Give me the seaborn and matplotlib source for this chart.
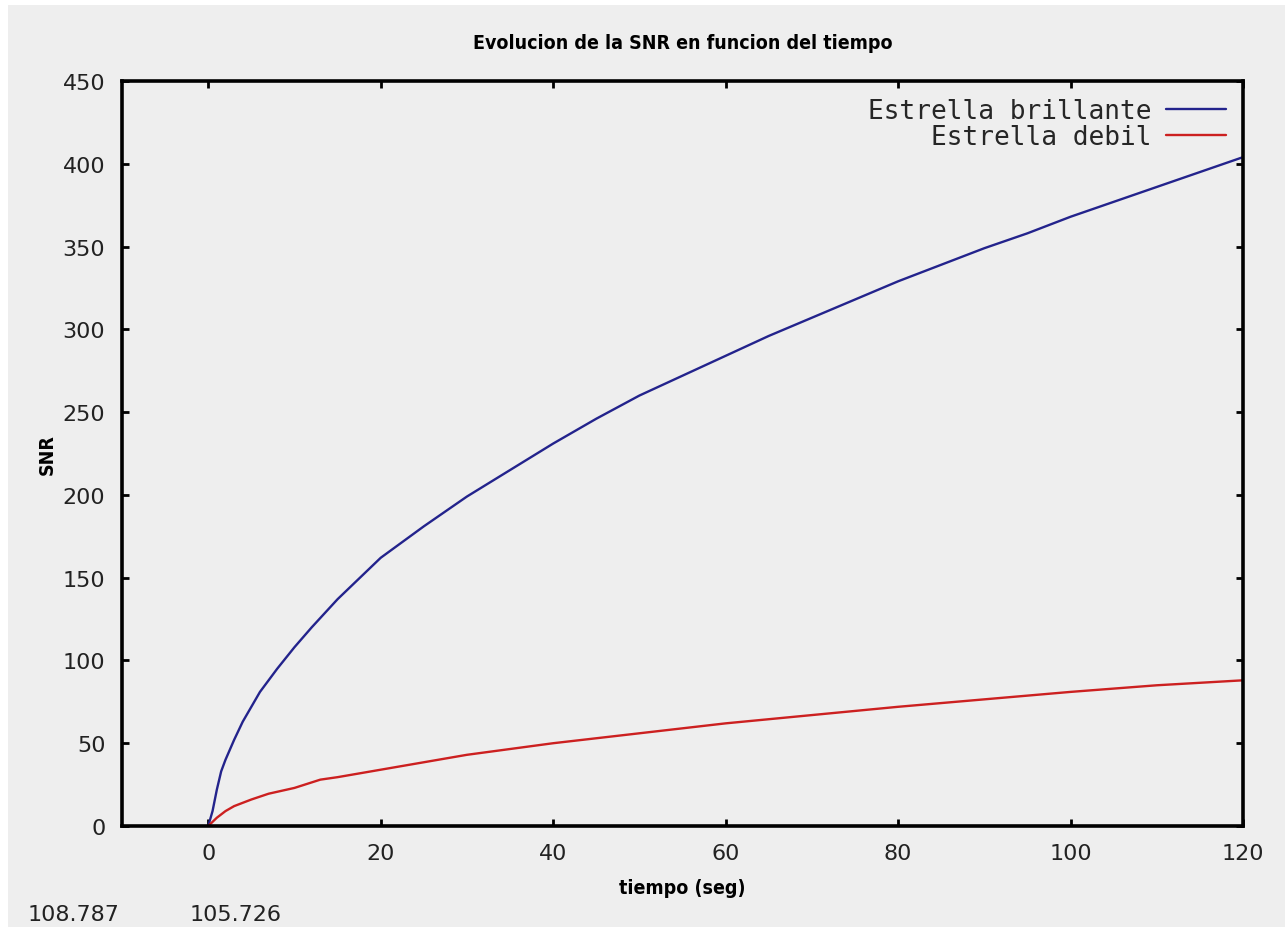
import pandas as pd
import seaborn as sns
import matplotlib.pyplot as plt
from matplotlib.patches import Rectangle

# valores
t_brillante = [0, 0.5, 1, 1.5, 2, 3, 4, 5, 6, 8, 10, 12, 15, 20, 25, 30, 35, 40, 45,
               50, 55, 60, 65, 70, 75, 80, 85, 90, 95, 100, 105, 110, 115, 120]
snr_brillante = [0, 9, 22, 33, 40, 52, 63, 72, 81, 95, 108, 120, 137, 162, 181, 199, 215, 231, 246,
                 260, 272, 284, 296, 307, 318, 329, 339, 349, 358, 368, 377, 386, 395, 404]
t_debil = [0, 1, 2, 3, 5, 7, 10, 13, 15, 20, 25, 30, 35, 40, 50, 60, 70, 80, 90, 100, 110, 120]
snr_debil = [0, 5, 9, 12, 16, 19.5, 23, 28, 29.5, 34, 38.5, 43, 46.5, 50, 56, 62, 67, 72, 76.5, 81, 85, 88]
series = ["Estrella brillante", "Estrella debil"]
colores = ["#23238c", "#cc2020"]
x_ticks = [0, 20, 40, 60, 80, 100, 120]
y_ticks = [0, 50, 100, 150, 200, 250, 300, 350, 400, 450]
coords = ["108.787", "105.726"]

df = pd.concat([
    pd.DataFrame({"t": t_brillante, "snr": snr_brillante, "serie": series[0]}),
    pd.DataFrame({"t": t_debil, "snr": snr_debil, "serie": series[1]}),
])

sns.set_theme(style="ticks")
plt.rcParams["font.family"] = ["DejaVu Sans"]
bg = "#eeeeee"

fig = plt.figure(figsize=(12.85, 9.28), dpi=100, facecolor="white")
fig.patches.append(Rectangle((8 / 1285, 0), 1, 1 - 6 / 928, transform=fig.transFigure,
                             facecolor=bg, edgecolor="none", zorder=-10))
ax = fig.add_axes([122 / 1285, 1 - 827 / 928, (1243 - 122) / 1285, (827 - 82) / 928])
ax.set_facecolor(bg)

sns.lineplot(data=df, x="t", y="snr", hue="serie", palette=dict(zip(series, colores)),
             linewidth=1.7, ax=ax, legend=False)

ax.set_xlim(-10, 120)
ax.set_ylim(0, 450)
ax.set_xticks(x_ticks)
ax.set_yticks(y_ticks)
ax.tick_params(direction="in", length=5, width=2, labelsize=16, colors="black",
               top=True, right=True, pad=12, labelcolor="#222222")
for s in ax.spines.values():
    s.set_linewidth(2.6)
    s.set_color("black")

bold = dict(family=["DejaVu Sans"], stretch="condensed", weight="bold", size=14, color="black")
ax.set_title("Evolucion de la SNR en funcion del tiempo", pad=24, fontdict=bold)
ax.set_xlabel("tiempo (seg)", fontdict=bold, labelpad=11)
ax.set_ylabel("SNR", fontdict=bold, labelpad=4)

handles = [plt.Line2D([], [], color=c, linewidth=1.7) for c in colores]
ax.legend(handles, series, loc="upper right", frameon=False, markerfirst=False,
          prop=dict(family="DejaVu Sans Mono", size=18.8), handlelength=2.3,
          handletextpad=0.55, labelspacing=0.02, borderaxespad=0.25)

fig.text(28 / 1285, 1 - 905 / 928, coords[0], va="top", fontsize=16, color="#222222")
fig.text(190 / 1285, 1 - 905 / 928, coords[1], va="top", fontsize=16, color="#222222")

fig.savefig("out.png", dpi=100, facecolor="white")
